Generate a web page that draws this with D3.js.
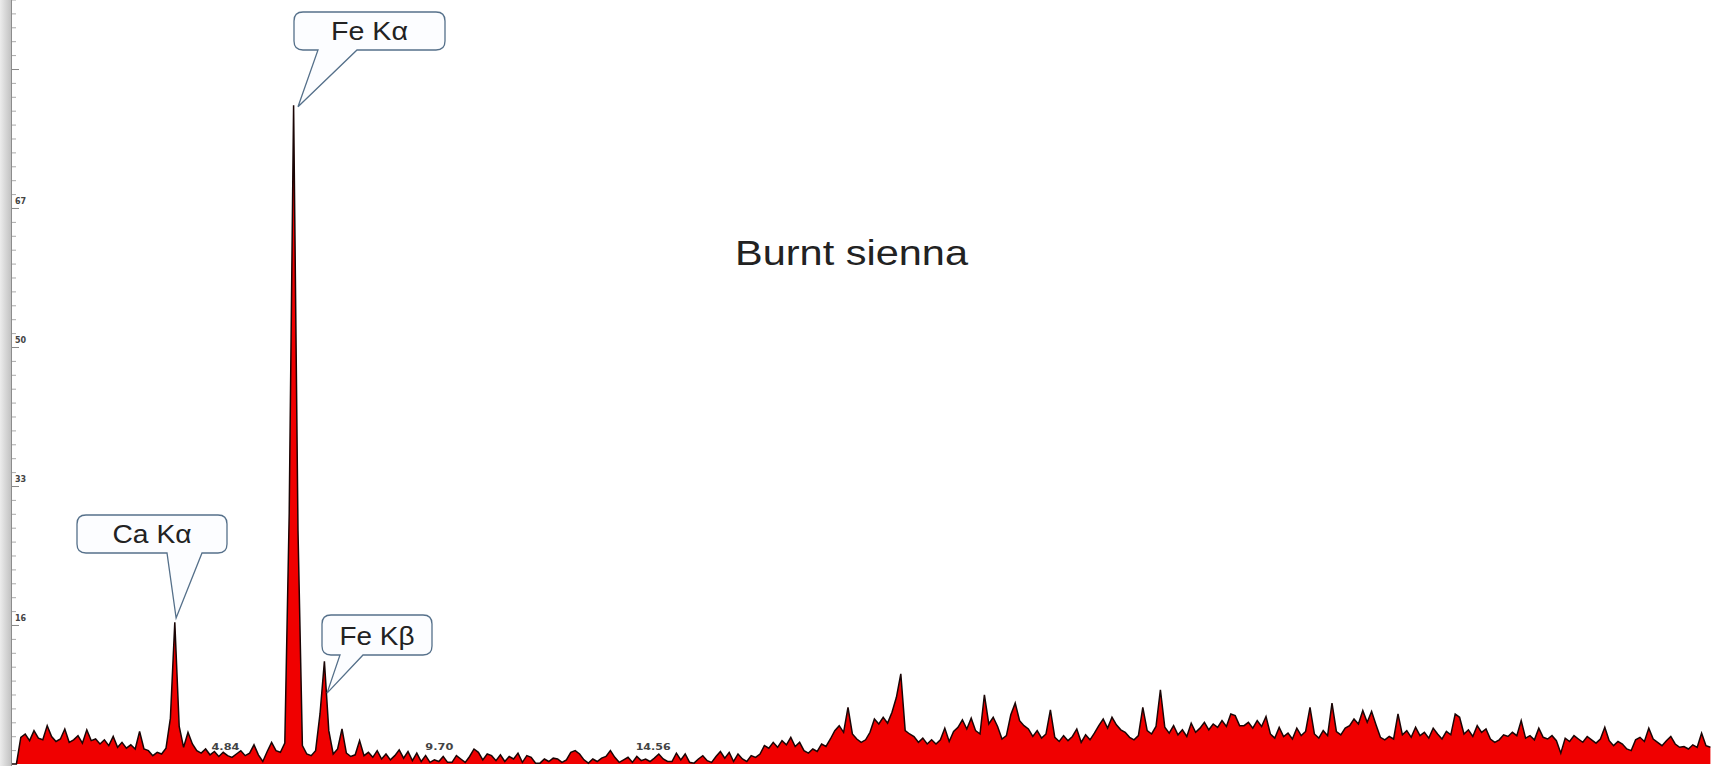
<!DOCTYPE html>
<html lang="en">
<head>
<meta charset="UTF-8">
<title>Burnt sienna</title>
<script src="https://d3js.org/d3.v7.min.js"></script>
<style>
  html, body { margin: 0; padding: 0; background: #fff; overflow: hidden; }
  svg { display: block; }
  .ytick text, .xtick text { font-family: "DejaVu Sans", sans-serif; font-weight: bold; fill: #444; }
  .bubble path { fill: #fcfdff; stroke: #55708a; stroke-width: 1.3; }
  .bubble text { font-family: "Liberation Sans", Arial, sans-serif; font-size: 25px; fill: #222; }
</style>
</head>
<body>
<svg id="chart" width="1711" height="766"></svg>
<script>
// spectrum: counts per 0.1 keV channel, starting at 0.0 keV
var channelStart = 0.0, channelStep = 0.1;
var counts = [
  0, 0, 3.2, 3.6, 2.8, 4.0, 3.1, 2.9, 4.6, 3.3,
  2.7, 3.0, 4.2, 2.6, 2.9, 3.4, 2.5, 4.1, 2.8, 3.0,
  2.4, 2.9, 2.2, 3.3, 2.0, 2.6, 1.9, 2.3, 1.8, 3.9,
  1.8, 1.6, 1.0, 1.4, 1.2, 1.9, 5.5, 17.0, 4.5, 2.0,
  3.8, 2.4, 1.6, 1.3, 1.8, 1.1, 1.5, 0.9, 1.4, 1.0,
  0.8, 1.2, 1.6, 1.0, 1.3, 2.3, 1.1, 0.3, 1.5, 2.6,
  1.6, 1.4, 2.5, 30.0, 79.0, 28.0, 2.2, 1.2, 1.0, 1.6,
  6.0, 12.3, 4.0, 1.2, 1.8, 4.2, 1.3, 0.9, 1.1, 2.8,
  1.0, 1.4, 0.8, 1.6, 0.6, 1.2, 0.5, 1.0, 1.7, 0.7,
  1.5, 0.4, 1.3, 0.3, 1.0, 0.2, 0.5, 0.3, 0.9, 0.2,
  0.2, 1.0, 0.6, 0.2, 0.9, 1.8, 1.4, 0.5, 1.2, 1.0,
  0.4, 1.1, 0.3, 0.9, 0.6, 1.3, 0.2, 1.0, 0.8, 0.1,
  0.1, 0.6, 0.3, 0.7, 0.6, 0.2, 0.5, 1.4, 1.6, 1.2,
  0.5, 0.1, 0.6, 0.3, 0.7, 0.9, 1.6, 0.8, 0.2, 0.5,
  0.8, 0.2, 0.9, 0.4, 0.6, 0.3, 0.7, 1.2, 0.6, 0.3,
  0.3, 1.3, 0.5, 1.2, 0.2, 0.1, 0.6, 1.0, 0.4, 0.2,
  0.9, 1.5, 0.7, 1.4, 0.3, 1.2, 0.6, 0.3, 1.0, 0.8,
  1.2, 2.2, 1.9, 2.6, 2.0, 2.8, 2.3, 3.2, 2.1, 2.6,
  1.6, 1.3, 1.8, 1.5, 2.4, 2.1, 3.0, 4.0, 4.6, 3.8,
  6.8, 3.6, 3.0, 2.6, 2.9, 3.8, 5.4, 4.8, 5.6, 4.9,
  6.2, 8.0, 10.8, 4.0, 3.6, 3.3, 2.6, 3.1, 2.4, 2.9,
  2.4, 2.9, 4.3, 2.7, 3.9, 4.4, 5.3, 4.2, 5.5, 4.0,
  3.6, 8.3, 4.8, 5.6, 4.5, 3.0, 3.4, 5.9, 7.3, 5.2,
  4.6, 4.2, 3.3, 4.0, 3.1, 3.6, 6.5, 3.2, 2.7, 3.4,
  2.8, 3.3, 4.2, 2.6, 3.5, 2.9, 3.7, 4.6, 5.4, 4.3,
  5.6, 4.7, 4.1, 3.8, 3.2, 2.9, 3.4, 6.8, 4.0, 3.6,
  4.5, 8.9, 4.4, 3.7, 4.6, 3.5, 4.1, 3.3, 4.9, 3.8,
  4.3, 5.0, 4.1, 4.8, 4.4, 5.2, 4.5, 6.0, 5.8, 4.6,
  4.6, 5.0, 4.3, 5.2, 4.5, 5.7, 3.6, 3.1, 4.4, 3.3,
  3.7, 3.0, 4.3, 3.4, 3.9, 6.8, 3.6, 3.1, 4.0, 3.4,
  7.3, 3.9, 3.5, 4.3, 4.6, 5.4, 4.8, 6.4, 5.0, 6.3,
  4.7, 3.2, 2.9, 3.3, 3.0, 6.0, 3.5, 4.0, 3.2, 4.4,
  3.4, 3.8, 3.1, 4.3, 3.6, 3.0, 3.9, 3.5, 6.0, 5.6,
  3.6, 4.1, 3.3, 4.6, 3.8, 4.2, 3.0, 2.6, 2.9, 3.5,
  3.3, 3.8, 3.4, 5.2, 3.1, 3.4, 2.9, 4.3, 3.2, 3.0,
  3.4, 2.8, 1.3, 3.1, 2.7, 3.4, 3.0, 2.6, 3.3, 2.9,
  2.5, 3.0, 4.4, 2.8, 2.2, 2.7, 2.4, 1.8, 1.6, 2.9,
  3.2, 2.7, 4.3, 3.0, 2.6, 2.2, 2.8, 3.3, 2.4, 2.0,
  2.1, 1.8, 2.3, 2.0, 3.7, 2.2, 2.0
];

// axis ticks
var xTickValues = [4.84, 9.70, 14.56, 19.42, 24.28, 29.14, 34.00];
var xTickLabels = ["4.84", "9.70", "14.56", "19.42", "24.28", "29.14", "34.00"];
var yTickValues = [16.67, 33.33, 50.0, 66.67, 83.33];
var yTickLabels = ["16", "33", "50", "67", ""];

// peak callouts
var peakLabels = ["Ca K\u03b1", "Fe K\u03b1", "Fe K\u03b2"];
var peakEnergy = [3.73, 6.5, 7.16];
var peakTip = [17.5, 78.8, 8.5];

// bubble box layout (px): x0, x1, y0, y1, pointer base left/right
var bubbleBoxes = [
  { x0: 77, x1: 227, y0: 515, y1: 553, b0: 167, b1: 202, tw: 79 },
  { x0: 294, x1: 445, y0: 12, y1: 50, b0: 318, b1: 357, tw: 77 },
  { x0: 322, x1: 432, y0: 615, y1: 655, b0: 340, b1: 363, tw: 75 }
];

var W = 1711, H = 766;
var svg = d3.select("#chart");

var x = d3.scaleLinear().domain([0, 38.6]).range([12, 1710.4]);
var y = d3.scaleLinear().domain([0, 100]).range([764, -70]);

var data = counts.map((c, i) => ({ e: channelStart + i * channelStep, c: c }));

// left window border
var grad = svg.append("defs").append("linearGradient").attr("id", "edge");
grad.append("stop").attr("offset", "0%").attr("stop-color", "#ececec");
grad.append("stop").attr("offset", "100%").attr("stop-color", "#c2c2c2");
svg.append("rect").attr("x", 0).attr("y", 0).attr("width", 11).attr("height", H).attr("fill", "url(#edge)");
svg.append("line").attr("x1", 11.5).attr("x2", 11.5).attr("y1", 0).attr("y2", H)
  .attr("stroke", "#8c8c8c").attr("stroke-width", 1);

// minor y ticks
svg.append("g")
  .attr("transform", "translate(12,0)")
  .call(d3.axisRight(y).tickValues(d3.range(1.6667, 100, 1.6667)).tickSize(4).tickFormat(""))
  .call(g => g.select(".domain").remove())
  .call(g => g.selectAll("line").attr("stroke", "#aaa"));

// major y ticks with labels
svg.append("g")
  .attr("class", "ytick")
  .attr("transform", "translate(12,0)")
  .call(d3.axisRight(y).tickValues(yTickValues).tickSize(7).tickFormat((d, i) => yTickLabels[i]))
  .call(g => g.select(".domain").remove())
  .call(g => g.selectAll("line").attr("stroke", "#888"))
  .call(g => g.selectAll("text")
    .attr("x", 3).attr("dy", "-0.6em")
    .attr("text-anchor", "start")
    .style("font-size", "8px"));

// x tick labels (drawn under the spectrum)
svg.append("g")
  .attr("class", "xtick")
  .attr("transform", "translate(0,740)")
  .call(d3.axisBottom(x).tickValues(xTickValues).tickSize(0).tickFormat((d, i) => xTickLabels[i]))
  .call(g => g.select(".domain").remove())
  .call(g => g.selectAll("text")
    .attr("y", 10).attr("dy", 0)
    .style("font-size", "8.5px")
    .attr("textLength", (d, i) => xTickLabels[i].length * 7)
    .attr("lengthAdjust", "spacingAndGlyphs"));

// spectrum
var area = d3.area().x(d => x(d.e)).y0(y(0)).y1(d => y(d.c));
var line = d3.line().x(d => x(d.e)).y(d => y(d.c));

svg.append("path").datum(data)
  .attr("d", area)
  .attr("fill", "#f00000");
svg.append("path").datum(data)
  .attr("d", line)
  .attr("fill", "none")
  .attr("stroke", "#1a0505")
  .attr("stroke-width", 1.5)
  .attr("stroke-linejoin", "miter");

// title
svg.append("text")
  .attr("x", 735).attr("y", 265)
  .attr("textLength", 233).attr("lengthAdjust", "spacingAndGlyphs")
  .style("font-family", "'Liberation Sans', Arial, sans-serif")
  .style("font-size", "35px")
  .style("fill", "#222")
  .text("Burnt sienna");

// callout bubbles
var r = 9;
function bubblePath(b, tx, ty) {
  return "M" + (b.x0 + r) + "," + b.y0 +
    " H" + (b.x1 - r) + " Q" + b.x1 + "," + b.y0 + " " + b.x1 + "," + (b.y0 + r) +
    " V" + (b.y1 - r) + " Q" + b.x1 + "," + b.y1 + " " + (b.x1 - r) + "," + b.y1 +
    " H" + b.b1 + " L" + tx + "," + ty + " L" + b.b0 + "," + b.y1 +
    " H" + (b.x0 + r) + " Q" + b.x0 + "," + b.y1 + " " + b.x0 + "," + (b.y1 - r) +
    " V" + (b.y0 + r) + " Q" + b.x0 + "," + b.y0 + " " + (b.x0 + r) + "," + b.y0 + " Z";
}

var bubbles = svg.selectAll(".bubble")
  .data(peakLabels)
  .enter().append("g")
  .attr("class", "bubble");

bubbles.append("path")
  .attr("d", (d, i) => bubblePath(bubbleBoxes[i], x(peakEnergy[i]), y(peakTip[i])));

bubbles.append("text")
  .attr("x", (d, i) => (bubbleBoxes[i].x0 + bubbleBoxes[i].x1) / 2)
  .attr("y", (d, i) => bubbleBoxes[i].y1 - 10)
  .attr("text-anchor", "middle")
  .attr("textLength", (d, i) => bubbleBoxes[i].tw)
  .attr("lengthAdjust", "spacingAndGlyphs")
  .text(d => d);
</script>
</body>
</html>
